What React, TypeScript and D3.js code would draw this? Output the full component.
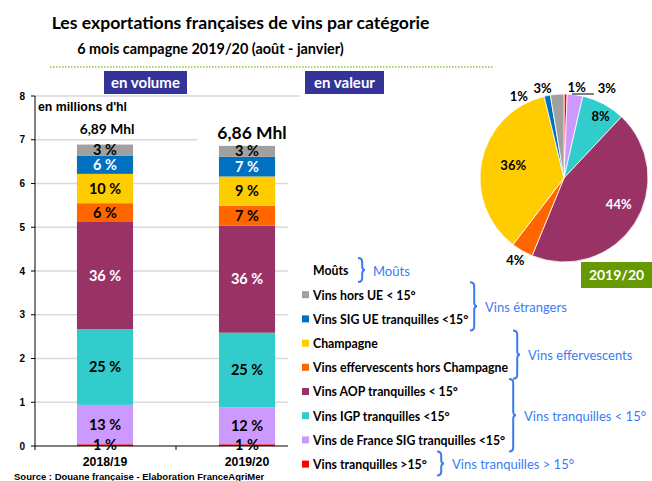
import React from 'react';
import * as d3 from 'd3';

// categories, bottom of the stack first (same order as the pie, clockwise from 12 o'clock)
const categories = [
  'Vins tranquilles >15°',
  'Vins de France SIG tranquilles <15°',
  'Vins IGP tranquilles <15°',
  'Vins AOP tranquilles < 15°',
  'Vins effervescents hors Champagne',
  'Champagne',
  'Vins SIG UE tranquilles <15°',
  'Vins hors UE < 15°',
];
const colors = ['#ff0000', '#cc99ff', '#33cccc', '#993366', '#ff6600', '#ffcc00', '#0070c0', '#a0a0a0'];
const whiteLabel = [false, false, false, true, false, false, true, false];

const years = ['2018/19', '2019/20'];
// volumes in millions of hl
const volume1819 = [0.04, 0.9, 1.73, 2.45, 0.43, 0.67, 0.41, 0.26];
const volume1920 = [0.04, 0.84, 1.71, 2.45, 0.45, 0.67, 0.45, 0.25];
const pct1819 = ['1 %', '13 %', '25 %', '36 %', '6 %', '10 %', '6 %', '3 %'];
const pct1920 = ['1 %', '12 %', '25 %', '36 %', '7 %', '9 %', '7 %', '3 %'];
const totals = ['6,89 Mhl', '6,86 Mhl'];
const yTicks = [0, 1, 2, 3, 4, 5, 6, 7, 8];

// value shares 2019/20 (%)
const valueShares = [0.6, 3.0, 8.4, 44.2, 4.2, 35.8, 1.2, 2.6];
const valueLabels = ['1%', '3%', '8%', '44%', '4%', '36%', '1%', '3%'];

// legend, top to bottom
const legendItems = [
  { name: 'Moûts', color: 'none' },
  { name: 'Vins hors UE < 15°', color: '#a0a0a0' },
  { name: 'Vins SIG UE tranquilles <15°', color: '#0070c0' },
  { name: 'Champagne', color: '#ffcc00' },
  { name: 'Vins effervescents hors Champagne', color: '#ff6600' },
  { name: 'Vins AOP tranquilles < 15°', color: '#993366' },
  { name: 'Vins IGP tranquilles <15°', color: '#33cccc' },
  { name: 'Vins de France SIG tranquilles <15°', color: '#cc99ff' },
  { name: 'Vins tranquilles >15°', color: '#ff0000' },
];
const groups = [
  { label: 'Moûts', from: 0, to: 0 },
  { label: 'Vins étrangers', from: 1, to: 2 },
  { label: 'Vins effervescents', from: 3, to: 4 },
  { label: 'Vins tranquilles < 15°', from: 5, to: 7 },
  { label: 'Vins tranquilles > 15°', from: 8, to: 8 },
];

const CAL = 'Lato, "Open Sans", sans-serif';
const ARIAL = '"Liberation Sans", Arial, sans-serif';
const BLUE = '#3d7bf5';

const App = () => {
  const y = d3.scaleLinear().domain([0, 8]).range([446, 96]);
  const x = d3.scaleBand().domain(years).range([34, 318]);
  const barW = x.bandwidth() * 0.395;
  const plotRight = 288;

  const rows = years.map((yr, i) => {
    const vals = i === 0 ? volume1819 : volume1920;
    const r: any = { year: yr };
    categories.forEach((c, j) => (r[c] = vals[j]));
    return r;
  });
  const series = d3.stack().keys(categories)(rows);
  const pcts = [pct1819, pct1920];

  // pie
  const cx = 564, cy = 178, R = 84;
  const pie = d3.pie<number>().sort(null).value((d) => d)(valueShares);
  const arc = d3.arc<any>().innerRadius(0).outerRadius(R);
  const labelPlace = [
    { r: 1.08, dx: 11, dy: 0 },
    { r: 1.08, dx: 31, dy: 0 },
    { r: 0.85, dx: 3, dy: 1 },
    { r: 0.69, dx: 6, dy: -5 },
    { r: 1.14, dx: -1, dy: -1 },
    { r: 0.63, dx: 1, dy: -2 },
    { r: 1.08, dx: -27, dy: 7 },
    { r: 1.08, dx: -14, dy: 1 },
  ];

  const legendY = (i: number) => 271 + i * 24.2;

  const brace = (x0: number, y0: number, y1: number) => {
    const w = 7;
    const m = (y0 + y1) / 2;
    return `M${x0},${y0} Q${x0 + w * 0.6},${y0} ${x0 + w * 0.6},${y0 + 4} L${x0 + w * 0.6},${m - 4} Q${x0 + w * 0.6},${m} ${x0 + w},${m} Q${x0 + w * 0.6},${m} ${x0 + w * 0.6},${m + 4} L${x0 + w * 0.6},${y1 - 4} Q${x0 + w * 0.6},${y1} ${x0},${y1}`;
  };
  const braceX = [358, 470, 513, 509, 437];

  return (
    <svg width={652} height={481} style={{ position: 'absolute', left: 0, top: 0, background: '#fff' }}>
      {/* titles */}
      <text x={240.5} y={29} textAnchor="middle" fontFamily={CAL} fontWeight="bold" fontSize={17.6} fill="#000">
        Les exportations françaises de vins par catégorie
      </text>
      <text x={210.5} y={54} textAnchor="middle" fontFamily={CAL} fontWeight="bold" fontSize={14.4} fill="#000">
        6 mois campagne 2019/20 (août - janvier)
      </text>
      <line x1={50} x2={493} y1={67} y2={67} stroke="#8dc63f" strokeWidth={1.5} strokeDasharray="1.5 1.5" />

      {/* gridlines */}
      {yTicks.filter((t) => t > 0).map((t) => (
        <line key={t} x1={35} x2={t === 8 ? 300 : plotRight} y1={y(t)} y2={y(t)} stroke="#d9d9d9" strokeWidth={1.5} />
      ))}

      {/* bars */}
      {series.map((s, j) =>
        s.map((d, i) => (
          <rect
            key={`${j}-${i}`}
            x={(x(years[i]) as number) + (x.bandwidth() - barW) / 2}
            y={y(d[1])}
            width={barW}
            height={y(d[0]) - y(d[1])}
            fill={colors[j]}
          />
        ))
      )}
      {series.map((s, j) =>
        s.map((d, i) => (
          <text
            key={`l${j}-${i}`}
            x={(x(years[i]) as number) + x.bandwidth() / 2}
            y={(y(d[0]) + y(d[1])) / 2}
            dy="0.35em"
            textAnchor="middle"
            fontFamily={CAL}
            fontWeight="bold"
            fontSize={14.5}
            fill={whiteLabel[j] ? '#fff' : '#000'}
          >
            {pcts[i][j]}
          </text>
        ))
      )}

      {/* axes */}
      <line x1={35} x2={35} y1={96} y2={446} stroke="#000" />
      {yTicks.map((t) => (
        <g key={t}>
          <line x1={31} x2={35} y1={y(t)} y2={y(t)} stroke="#000" />
          <text x={25} y={y(t)} dy="0.35em" textAnchor="end" fontFamily={ARIAL} fontWeight="bold" fontSize={10} fill="#000">
            {t}
          </text>
        </g>
      ))}
      <line x1={35} x2={plotRight} y1={446} y2={446} stroke="#000" />
      {[35, (x(years[1]) as number)].map((t) => (
        <line key={t} x1={t} x2={t} y1={446} y2={450} stroke="#000" />
      ))}
      {years.map((yr) => (
        <text key={yr} x={(x(yr) as number) + x.bandwidth() / 2} y={466} textAnchor="middle" fontFamily={ARIAL} fontWeight="bold" fontSize={12.3} fill="#000">
          {yr}
        </text>
      ))}

      {/* bar annotations */}
      <text x={38} y={111} fontFamily={ARIAL} fontWeight="bold" fontSize={12.3} fill="#000">en millions d'hl</text>
      <text x={(x(years[0]) as number) + x.bandwidth() / 2 + 2} y={134} textAnchor="middle" fontFamily={CAL} fontWeight="bold" fontSize={13.8} fill="#000">
        {totals[0]}
      </text>
      <rect x={197} y={124} width={95} height={20} fill="#fff" />
      <text x={(x(years[1]) as number) + x.bandwidth() / 2 + 5} y={139} textAnchor="middle" fontFamily={CAL} fontWeight="bold" fontSize={17.5} fill="#000">
        {totals[1]}
      </text>

      {/* section headers */}
      <rect x={104} y={71} width={83} height={23} fill="#333399" />
      <text x={145.5} y={83} dy="0.35em" textAnchor="middle" fontFamily={CAL} fontWeight="bold" fontSize={15} fill="#fff">en volume</text>
      <rect x={305} y={71} width={79} height={23} fill="#333399" />
      <text x={344.5} y={83} dy="0.35em" textAnchor="middle" fontFamily={CAL} fontWeight="bold" fontSize={15} fill="#fff">en valeur</text>

      {/* pie */}
      <g transform={`translate(${cx},${cy})`}>
        {pie.map((p, i) => (
          <path key={i} d={arc(p) as string} fill={colors[i]} stroke="#fff" strokeWidth={0.8} />
        ))}
        {pie.map((p, i) => {
          const a = (p.startAngle + p.endAngle) / 2;
          const r = R * labelPlace[i].r;
          return (
            <text
              key={`pl${i}`}
              x={Math.sin(a) * r + labelPlace[i].dx}
              y={-Math.cos(a) * r + labelPlace[i].dy}
              dy="0.35em"
              textAnchor="middle"
              fontFamily={CAL}
              fontWeight="bold"
              fontSize={13}
              fill={i === 3 ? '#fff' : '#000'}
            >
              {valueLabels[i]}
            </text>
          );
        })}
        <line x1={8} x2={30} y1={-R} y2={-R} stroke="#000" strokeWidth={1} />
      </g>
      <rect x={581} y={262} width={71} height={26} fill="#669900" />
      <text x={616.5} y={275} dy="0.35em" textAnchor="middle" fontFamily={CAL} fontWeight="bold" fontSize={14} fill="#fff">2019/20</text>

      {/* legend */}
      {legendItems.map((it, i) => (
        <g key={it.name}>
          {it.color !== 'none' && <rect x={302} y={legendY(i) - 4} width={7} height={7} fill={it.color} />}
          <text x={313} y={legendY(i)} dy="0.35em" fontFamily={CAL} fontWeight="bold" fontSize={12.3} fill="#000">
            {it.name}
          </text>
        </g>
      ))}
      {groups.map((g, k) => {
        const y0 = legendY(g.from) - 13;
        const y1 = legendY(g.to) + 11;
        const bx = braceX[k];
        return (
          <g key={g.label}>
            <path d={brace(bx, y0, y1)} fill="none" stroke={BLUE} strokeWidth={2} />
            <text x={bx + 15} y={(y0 + y1) / 2 + 1} dy="0.35em" fontFamily={CAL} fontSize={13} fill={BLUE}>
              {g.label}
            </text>
          </g>
        );
      })}

      {/* source */}
      <text x={14} y={480} fontFamily={ARIAL} fontWeight="bold" fontSize={9.5} fill="#000">
        Source : Douane française - Elaboration FranceAgriMer
      </text>
    </svg>
  );
};

export default App;
